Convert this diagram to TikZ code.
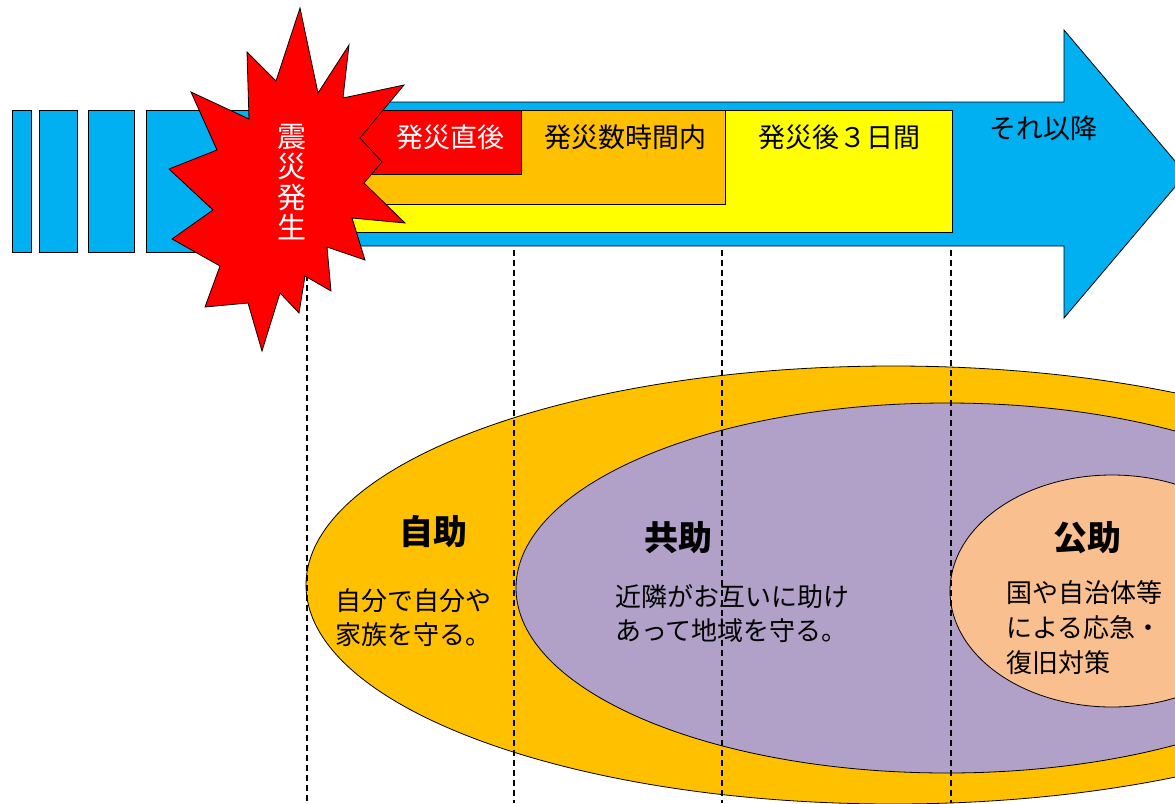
\documentclass[tikz,border=0pt]{standalone}
\usepackage{fontspec}
\newfontfamily\jp{Noto Sans CJK JP}
\definecolor{cblue}{HTML}{00B0F0}
\definecolor{cred}{HTML}{FF0000}
\definecolor{corange}{HTML}{FFC000}
\definecolor{cyellow}{HTML}{FFFF00}
\definecolor{cpurple}{HTML}{B1A0C7}
\definecolor{csalmon}{HTML}{FABF8F}
\begin{document}
\begin{tikzpicture}[x=1pt,y=-1pt,
  outl/.style={draw=black, line width=0.8pt},
  lbl/.style={font=\jp\fontsize{26}{34}\selectfont, inner sep=0pt, align=left},
  hdr/.style={font=\jp\fontsize{27}{30}\selectfont, inner sep=0pt},
  ttl/.style={font=\jp\bfseries\fontsize{34}{40}\selectfont, inner sep=0pt},
  vline/.style={draw=black, dash pattern=on 6pt off 4pt, line width=1.2pt}]
\useasboundingbox (0,0) rectangle (1175,803);
\clip (0,0) rectangle (1175,803);
% left bars
\draw[outl, fill=cblue] (12,110) rectangle (31,252);
\draw[outl, fill=cblue] (39,110) rectangle (77,252);
\draw[outl, fill=cblue] (88,110) rectangle (134,252);
\draw[outl, fill=cblue] (146,110) rectangle (255,252);
% main arrow
\draw[outl, fill=cblue] (255,102) -- (1064,102) -- (1064,30) -- (1186,174) -- (1064,318) -- (1064,246) -- (255,246) -- cycle;
% nested periods
\draw[outl, fill=cyellow] (340,110) rectangle (952,232);
\draw[outl, fill=corange] (340,110) rectangle (725,204);
\draw[outl, fill=cred] (340,110) rectangle (521,174);
% ellipses
\draw[outl, fill=corange] (893,585) ellipse [x radius=587, y radius=219];
\draw[outl, fill=cpurple] (947,588) ellipse [x radius=431, y radius=185];
\draw[outl, fill=csalmon] (1112,591) ellipse [x radius=162, y radius=116];
% dashed time lines
\coordinate (d1t) at (307,255); \coordinate (d1b) at (307,803);
\coordinate (d2t) at (514,250); \coordinate (d2b) at (514,803);
\coordinate (d3t) at (722,250); \coordinate (d3b) at (722,803);
\coordinate (d4t) at (951,250); \coordinate (d4b) at (951,803);
\draw[vline] (d1t) -- (d1b);
\draw[vline] (d2t) -- (d2b);
\draw[vline] (d3t) -- (d3b);
\draw[vline] (d4t) -- (d4b);
% starburst
\draw[outl, fill=cred] (300,8) -- (318,93) -- (349,45) -- (343,98) -- (404,85) -- (360,138) -- (382,162) -- (364,183) -- (405,223) -- (352,218) -- (365,260) -- (327,247) -- (331,291) -- (305,276) -- (299,313) -- (280,293) -- (262,351) -- (248,303) -- (205,307) -- (220,266) -- (172,239) -- (213,210) -- (169,169) -- (217,150) -- (191,92) -- (249,119) -- (247,52) -- (276,81) -- cycle;
% texts
\node[font=\jp\fontsize{29}{30.5}\selectfont, inner sep=0pt, align=center, text=white] (quake) at (292,182) {震\\災\\発\\生};
\node[hdr, text=white] (h1) at (450,137) {発災直後};
\node[hdr] (h2) at (625,137) {発災数時間内};
\node[hdr] (h3) at (839,137) {発災後３日間};
\node[hdr] (h4) at (1043,128) {それ以降};
\node[ttl] (t1) at (433,532) {自助};
\node[ttl] (t2) at (678,538) {共助};
\node[ttl] (t3) at (1087,538) {公助};
\node[lbl, anchor=west] (b1) at (335,618) {自分で自分や\\家族を守る。};
\node[lbl, anchor=west] (b2) at (615,614) {近隣がお互いに助け\\あって地域を守る。};
\node[lbl, anchor=west, font=\jp\fontsize{26}{35}\selectfont] (b3) at (1006,628) {国や自治体等\\による応急・\\復旧対策};
\end{tikzpicture}
\end{document}
